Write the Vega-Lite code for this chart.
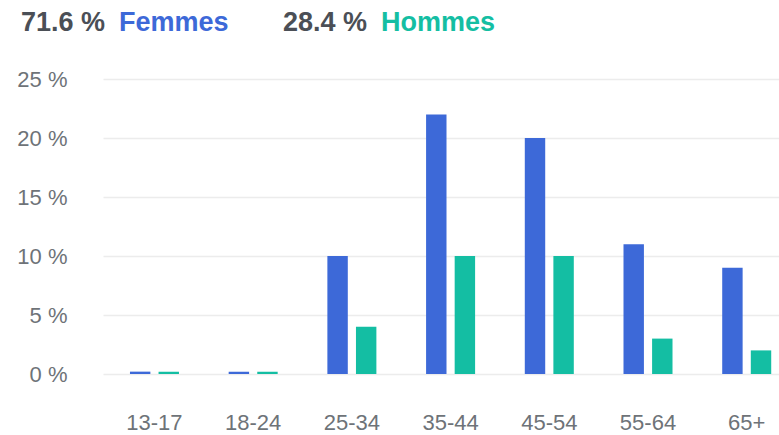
{
  "$schema": "https://vega.github.io/schema/vega-lite/v6.json",
  "padding": {"left": 16, "top": 0, "right": 0, "bottom": 0},
  "background": "white",
  "spacing": 22,
  "config": {
    "view": {"stroke": null},
    "font": "Liberation Sans"
  },
  "datasets": {
    "header": [
      {"gender": "Femmes", "pct": "71.6 %"},
      {"gender": "Hommes", "pct": "28.4 %"}
    ],
    "ages": [
      {"age": "13-17", "gender": "Femmes", "value": 0.2},
      {"age": "13-17", "gender": "Hommes", "value": 0.2},
      {"age": "18-24", "gender": "Femmes", "value": 0.2},
      {"age": "18-24", "gender": "Hommes", "value": 0.2},
      {"age": "25-34", "gender": "Femmes", "value": 10},
      {"age": "25-34", "gender": "Hommes", "value": 4},
      {"age": "35-44", "gender": "Femmes", "value": 22},
      {"age": "35-44", "gender": "Hommes", "value": 10},
      {"age": "45-54", "gender": "Femmes", "value": 20},
      {"age": "45-54", "gender": "Hommes", "value": 10},
      {"age": "55-64", "gender": "Femmes", "value": 11},
      {"age": "55-64", "gender": "Hommes", "value": 3},
      {"age": "65+", "gender": "Femmes", "value": 9},
      {"age": "65+", "gender": "Hommes", "value": 2}
    ]
  },
  "vconcat": [
    {
      "width": 262,
      "height": 46,
      "data": {"name": "header"},
      "layer": [
        {
          "mark": {"type": "text", "align": "left", "baseline": "middle", "fontSize": 27, "fontWeight": "bold", "color": "#4b4f56", "dx": -82},
          "encoding": {
            "x": {"field": "gender", "type": "nominal", "axis": null, "scale": {"type": "point", "padding": 0}},
            "text": {"field": "pct"}
          }
        },
        {
          "mark": {"type": "text", "align": "left", "baseline": "middle", "fontSize": 27, "fontWeight": "bold", "dx": 16},
          "encoding": {
            "x": {"field": "gender", "type": "nominal", "axis": null, "scale": {"type": "point", "padding": 0}},
            "text": {"field": "gender"},
            "color": {"field": "gender", "type": "nominal", "scale": {"domain": ["Femmes", "Hommes"], "range": ["#3d69d8", "#14bea3"]}, "legend": null}
          }
        }
      ]
    },
    {
      "width": 676,
      "height": 295,
      "data": {"name": "ages"},
      "mark": {"type": "bar"},
      "encoding": {
        "x": {
          "field": "age", "type": "nominal",
          "sort": ["13-17", "18-24", "25-34", "35-44", "45-54", "55-64", "65+"],
          "scale": {"paddingInner": 0.5035, "paddingOuter": 0.176, "align": 0.776},
          "axis": {"title": null, "labelAngle": 0, "domain": false, "ticks": false, "labelPadding": 38, "labelFontSize": 22, "labelColor": "#6e7378", "labelFont": "Liberation Sans"}
        },
        "xOffset": {
          "field": "gender", "type": "nominal",
          "scale": {"domain": ["Femmes", "Hommes"], "paddingInner": 0.2857, "paddingOuter": 0}
        },
        "y": {
          "field": "value", "type": "quantitative",
          "scale": {"domain": [0, 25], "nice": false},
          "axis": {"title": null, "values": [0, 5, 10, 15, 20, 25], "labelExpr": "datum.value + ' %'", "domain": false, "ticks": false, "labelPadding": 36, "labelFontSize": 22, "labelColor": "#6e7378", "gridColor": "#ececec", "gridWidth": 1.5, "labelFont": "Liberation Sans"}
        },
        "color": {"field": "gender", "type": "nominal", "scale": {"domain": ["Femmes", "Hommes"], "range": ["#3d69d8", "#14bea3"]}, "legend": null}
      }
    }
  ]
}
